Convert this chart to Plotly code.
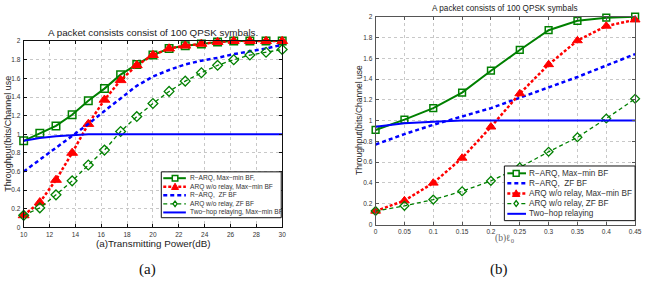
import plotly.graph_objects as go

W, H = 649, 290

# ---------------- data: panel (a) ----------------
power_db = [10, 11.25, 12.5, 13.75, 15, 16.25, 17.5, 18.75, 20, 21.25, 22.5, 23.75, 25, 26.25, 27.5, 28.75, 30]
a_rarq_maxmin = [0.93, 1.01, 1.09, 1.21, 1.36, 1.49, 1.64, 1.75, 1.85, 1.92, 1.95, 1.97, 1.99, 2.0, 2.0, 2.0, 2.0]
a_arq_maxmin = [0.13, 0.27, 0.51, 0.80, 1.11, 1.37, 1.58, 1.74, 1.85, 1.92, 1.95, 1.97, 1.99, 2.0, 2.0, 2.0, 2.0]
a_rarq_zf = [0.60, 0.73, 0.86, 0.98, 1.11, 1.25, 1.38, 1.52, 1.62, 1.69, 1.75, 1.79, 1.82, 1.86, 1.89, 1.92, 1.96]
a_arq_zf = [0.13, 0.21, 0.35, 0.50, 0.67, 0.83, 1.03, 1.19, 1.33, 1.46, 1.57, 1.66, 1.74, 1.80, 1.85, 1.88, 1.91]
a_twohop = [0.93, 0.96, 0.98, 0.99, 1.0, 1.0, 1.0, 1.0, 1.0, 1.0, 1.0, 1.0, 1.0, 1.0, 1.0, 1.0, 1.0]

# ---------------- data: panel (b) ----------------
ell0 = [0, 0.05, 0.1, 0.15, 0.2, 0.25, 0.3, 0.35, 0.4, 0.45]
b_rarq_maxmin = [0.91, 1.01, 1.12, 1.27, 1.48, 1.68, 1.87, 1.96, 1.99, 2.0]
b_rarq_zf = [0.77, 0.87, 0.96, 1.04, 1.12, 1.22, 1.32, 1.42, 1.53, 1.64]
b_arq_maxmin = [0.13, 0.23, 0.40, 0.64, 0.94, 1.26, 1.54, 1.77, 1.91, 1.97]
b_arq_zf = [0.13, 0.18, 0.24, 0.32, 0.42, 0.55, 0.70, 0.84, 1.02, 1.21]
b_twohop = [0.94, 0.975, 0.99, 1.0, 1.0, 1.0, 1.0, 1.0, 1.0, 1.0]

y_ticks = [0, 0.2, 0.4, 0.6, 0.8, 1, 1.2, 1.4, 1.6, 1.8, 2]
a_x_ticks = [10, 12, 14, 16, 18, 20, 22, 24, 26, 28, 30]
b_x_ticks = [0, 0.05, 0.1, 0.15, 0.2, 0.25, 0.3, 0.35, 0.4, 0.45]

a_names = ["R−ARQ, Max−min BF,", "ARQ w/o relay, Max−min BF", "R−ARQ,  ZF BF",
           "ARQ w/o relay, ZF BF", "Two−hop relaying, Max−min BF"]
b_names = ["R−ARQ, Max−min BF", "R−ARQ,  ZF BF", "ARQ w/o relay, Max−min BF",
           "ARQ w/o relay, ZF BF", "Two−hop relaying"]

GREEN = "#008000"
RED = "#ff0000"
BLUE = "#0000ff"

# style per series key
styles = {
    "rarq_maxmin": dict(color=GREEN, dash="solid", width=2, symbol="square-open", msize=7.5, mlw=1.5),
    "arq_maxmin": dict(color=RED, dash="3px,2px", width=2.5, symbol="triangle-up", msize=9.5, mlw=1),
    "rarq_zf": dict(color=BLUE, dash="4px,3px", width=2.5, symbol=None, msize=0, mlw=0),
    "arq_zf": dict(color=GREEN, dash="4px,3px", width=1.3, symbol="diamond-open", msize=7.5, mlw=1.3),
    "twohop": dict(color=BLUE, dash="solid", width=2, symbol=None, msize=0, mlw=0),
}

fig = go.Figure()


def add_series(x, y, key, name, xa, ya, msize_scale=1.0):
    st = styles[key]
    kw = dict(x=x, y=y, name=name, xaxis=xa, yaxis=ya, showlegend=False, cliponaxis=False,
              line=dict(color=st["color"], width=st["width"], dash=st["dash"]))
    if st["symbol"]:
        kw["mode"] = "lines+markers"
        kw["marker"] = dict(symbol=st["symbol"], size=st["msize"] * msize_scale, color=st["color"],
                            line=dict(color=st["color"], width=st["mlw"]))
    else:
        kw["mode"] = "lines"
    fig.add_trace(go.Scatter(**kw))


a_keys = ["rarq_maxmin", "arq_maxmin", "rarq_zf", "arq_zf", "twohop"]
a_vals = [a_rarq_maxmin, a_arq_maxmin, a_rarq_zf, a_arq_zf, a_twohop]
for k, v, n in zip(a_keys, a_vals, a_names):
    add_series(power_db, v, k, n, "x", "y")

b_keys = ["rarq_maxmin", "rarq_zf", "arq_maxmin", "arq_zf", "twohop"]
b_vals = [b_rarq_maxmin, b_rarq_zf, b_arq_maxmin, b_arq_zf, b_twohop]
for k, v, n in zip(b_keys, b_vals, b_names):
    add_series(ell0, v, k, n, "x2", "y2", msize_scale=0.9)


def px_x(p):
    return p / W


def px_y(p):
    return 1 - p / H


# axes boxes in pixels
A_BOX = (20, 283, 38, 229)
B_BOX = (378, 642, 13, 226)

sans = "Liberation Sans"
serif = "Liberation Serif"

tickfont = dict(family=sans, size=6.5, color="#333")
grid = dict(showgrid=True, gridcolor="#c8c8c8", griddash="dot", gridwidth=1)


def axis(domain, rng, ticks, linecolor, anchor):
    return dict(domain=domain, range=rng, tickmode="array", tickvals=ticks, ticks="inside",
                ticklen=3, tickcolor=linecolor, showline=True, linecolor=linecolor, linewidth=1,
                mirror="allticks", zeroline=False, tickfont=tickfont, anchor=anchor,
                ticklabelstandoff=1, **grid)


fig.update_layout(
    width=W, height=H, margin=dict(l=0, r=0, t=0, b=0),
    paper_bgcolor="white", plot_bgcolor="white", showlegend=False,
    font=dict(family=sans),
    xaxis=axis([px_x(A_BOX[0]), px_x(A_BOX[1])], [10, 30], a_x_ticks, "#111", "y"),
    yaxis=axis([px_y(A_BOX[3]), px_y(A_BOX[2])], [0, 2], y_ticks, "#111", "x"),
    xaxis2=axis([px_x(B_BOX[0]), px_x(B_BOX[1])], [0, 0.45], b_x_ticks, "#555", "y2"),
    yaxis2=axis([px_y(B_BOX[3]), px_y(B_BOX[2])], [0, 2], y_ticks, "#555", "x2"),
)


def text(x, y, s, size, family=sans, color="#222", angle=0, xanchor="center"):
    fig.add_annotation(x=px_x(x), y=px_y(y), xref="paper", yref="paper", text=s, showarrow=False,
                       font=dict(family=family, size=size, color=color), textangle=angle,
                       xanchor=xanchor, yanchor="middle")


# titles and labels
text(152, 29, "A packet consists consist of 100 QPSK symbals.", 9.8)
text(510, 5, "A packet consists of 100 QPSK symbals", 8.2)
text(152, 245, "(a)Transmitting Power(dB)", 9.8)
text(510, 240, "(b)ℓ<sub>0</sub>", 9.5, family=serif, color="#666")
text(146, 272, "(a)", 15, family=serif, color="#111")
text(504, 272, "(b)", 15, family=serif, color="#111")
text(4, 133, "Throughput(bits/Channel use", 9, angle=-90)
text(361, 119, "Throughput(bits/Channel use", 8.5, angle=-90)


# hand-placed legends (box + samples + text) built from the series names/styles
def legend(keys, names, box, row_y, line_x, marker_x, text_x, fsize, mscale):
    x0, x1, y0, y1 = box
    fig.add_shape(type="rect", xref="paper", yref="paper", x0=px_x(x0), x1=px_x(x1),
                  y0=px_y(y1), y1=px_y(y0), line=dict(color="#111", width=1), fillcolor="white",
                  layer="above")
    for k, n, ry in zip(keys, names, row_y):
        st = styles[k]
        fig.add_shape(type="line", xref="paper", yref="paper", x0=px_x(line_x[0]), x1=px_x(line_x[1]),
                      y0=px_y(ry), y1=px_y(ry), layer="above",
                      line=dict(color=st["color"], width=st["width"], dash=st["dash"]))
        if st["symbol"]:
            r = st["msize"] * mscale / 2
            cx, cy = marker_x, ry
            if st["symbol"].startswith("square"):
                path = f"M{px_x(cx-r)},{px_y(cy-r)} L{px_x(cx+r)},{px_y(cy-r)} L{px_x(cx+r)},{px_y(cy+r)} L{px_x(cx-r)},{px_y(cy+r)} Z"
                fill = "white"
            elif st["symbol"].startswith("triangle"):
                path = f"M{px_x(cx)},{px_y(cy-r)} L{px_x(cx+r)},{px_y(cy+r*0.8)} L{px_x(cx-r)},{px_y(cy+r*0.8)} Z"
                fill = st["color"]
            else:
                path = f"M{px_x(cx)},{px_y(cy-r)} L{px_x(cx+r*0.75)},{px_y(cy)} L{px_x(cx)},{px_y(cy+r)} L{px_x(cx-r*0.75)},{px_y(cy)} Z"
                fill = "white"
            fig.add_shape(type="path", xref="paper", yref="paper", path=path, layer="above",
                          fillcolor=fill, line=dict(color=st["color"], width=st["mlw"]))
        text(text_x, ry, n, fsize, color="#333", xanchor="left")


legend(a_keys, a_names, (160, 282, 172, 219), [178.5, 187.2, 196, 204.8, 213.6],
       (162, 185), 174, 187, 6.6, 0.75)
legend(b_keys, b_names, (509, 642, 166, 222), [173.5, 183.8, 194.2, 204.5, 215],
       (512, 531), 521, 532.5, 8.2, 0.8)

fig.write_html("out.html")
